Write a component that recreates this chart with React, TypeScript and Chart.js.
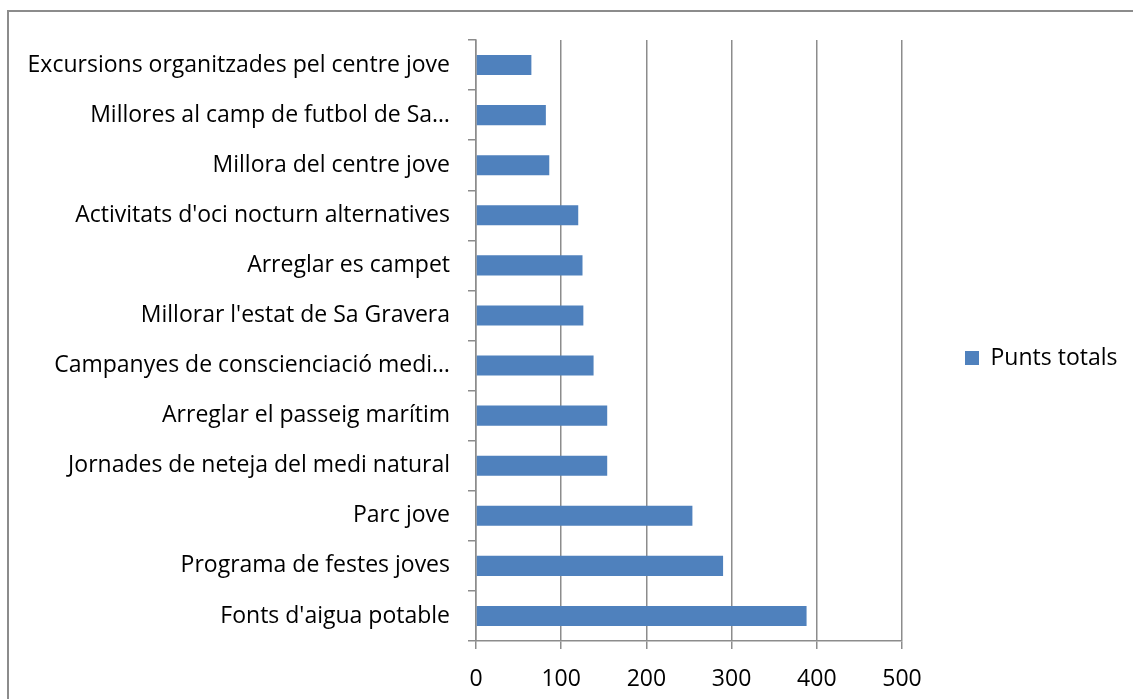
import React, { useEffect, useRef } from "react";
import { Chart, registerables } from "chart.js";

Chart.register(...registerables);

const categories = [
  "Excursions organitzades pel centre jove",
  "Millores al camp de futbol de Sa…",
  "Millora del centre jove",
  "Activitats d'oci nocturn alternatives",
  "Arreglar es campet",
  "Millorar l'estat de Sa Gravera",
  "Campanyes de conscienciació medi…",
  "Arreglar el passeig marítim",
  "Jornades de neteja del medi natural",
  "Parc jove",
  "Programa de festes joves",
  "Fonts d'aigua potable",
];

const puntsTotals = [65, 82, 86, 120, 125, 126, 138, 154, 154, 254, 290, 388];

const seriesName = "Punts totals";
const xMin = 0;
const xMax = 500;
const xStep = 100;

const FONT_FAMILY = "'Open Sans'";
const FONT_SIZE = 23;
const BAR_COLOR = "#4F81BD";
const LINE_COLOR = "#8C8C8C";
const TEXT_COLOR = "#000000";

export default function App() {
  const canvasRef = useRef<HTMLCanvasElement | null>(null);

  useEffect(() => {
    document.body.style.margin = "0";
    const canvas = canvasRef.current;
    if (!canvas) return;

    const mctx = canvas.getContext("2d")!;
    mctx.font = `${FONT_SIZE}px ${FONT_FAMILY}`;
    const legendTextW = mctx.measureText(seriesName).width;
    const legendPad = 63;
    const legendBox = 14;
    const plotRight = 902;
    const legendWidth = legendPad + legendBox + FONT_SIZE / 2 + legendTextW + 10;
    const rightPad = Math.max(0, 1133 - plotRight - legendWidth);

    const chart = new Chart(canvas, {
      type: "bar",
      data: {
        labels: categories,
        datasets: [
          {
            label: seriesName,
            data: puntsTotals,
            backgroundColor: BAR_COLOR,
            borderWidth: 0,
            categoryPercentage: 1,
            barPercentage: 0.4,
          },
        ],
      },
      options: {
        indexAxis: "y",
        responsive: false,
        animation: false,
        layout: { padding: { top: 17, left: 0, right: rightPad, bottom: 0 } },
        font: { family: FONT_FAMILY, size: FONT_SIZE },
        plugins: {
          title: {
            display: true,
            text: "",
            padding: { top: 13, bottom: 0 },
            font: { size: 10, lineHeight: 1 },
          },
          tooltip: { enabled: false },
          legend: {
            display: true,
            position: "right",
            fullSize: true,
            labels: {
              boxWidth: legendBox,
              boxHeight: legendBox,
              padding: legendPad,
              color: TEXT_COLOR,
              font: { family: FONT_FAMILY, size: FONT_SIZE },
            },
          },
        },
        scales: {
          x: {
            type: "linear",
            min: xMin,
            max: xMax,
            ticks: {
              stepSize: xStep,
              color: TEXT_COLOR,
              padding: 17,
              font: { family: FONT_FAMILY, size: FONT_SIZE },
            },
            grid: {
              color: LINE_COLOR,
              lineWidth: 1.5,
              drawTicks: true,
              tickLength: 8,
            },
            border: { color: LINE_COLOR, width: 1.5 },
            afterFit: (s: any) => {
              s.height = 58;
            },
          },
          y: {
            type: "category",
            ticks: {
              color: TEXT_COLOR,
              padding: 18,
              autoSkip: false,
              font: { family: FONT_FAMILY, size: FONT_SIZE },
            },
            grid: {
              offset: true,
              drawOnChartArea: false,
              drawTicks: true,
              tickLength: 8,
              color: LINE_COLOR,
              lineWidth: 1.5,
            },
            border: { color: LINE_COLOR, width: 1.5 },
            afterFit: (s: any) => {
              s.width = 476;
            },
          },
        },
      },
    });
    return () => chart.destroy();
  }, []);

  return (
    <div
      style={{
        position: "relative",
        width: 1133,
        height: 699,
        overflow: "hidden",
        background: "#fff",
      }}
    >
      <div
        style={{
          position: "absolute",
          left: 7,
          top: 10,
          width: 1200,
          height: 800,
          border: "2px solid #8C8C8C",
          boxSizing: "border-box",
        }}
      />
      <canvas
        ref={canvasRef}
        width={1133}
        height={699}
        style={{ position: "absolute", left: 0, top: 0, width: 1133, height: 699 }}
      />
    </div>
  );
}
